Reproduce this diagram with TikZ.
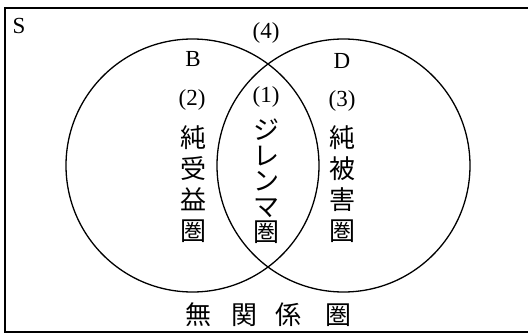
\documentclass[tikz,border=0pt]{standalone}
\usepackage{fontspec}
\setmainfont{Liberation Serif}
\newfontfamily\cjk{Noto Sans CJK JP}
\begin{document}
\begin{tikzpicture}[x=1pt,y=-1pt,
  lat/.style={inner sep=0pt,font=\fontsize{23}{27}\selectfont},
  jcol/.style={inner sep=0pt,align=center,font=\cjk\fontsize{26}{31}\selectfont},
  jchar/.style={inner sep=0pt,font=\cjk\fontsize{26}{30}\selectfont},
  ring/.style={line width=1.3pt}]
\useasboundingbox (0,0) rectangle (528,334);
\draw[line width=1.6pt] (530,8) -- (5,8) -- (5,332) -- (530,332);
\node[draw,ring,circle,minimum size=253pt,inner sep=0pt] (B) at (192.5,165.5) {};
\node[draw,ring,circle,minimum size=253pt,inner sep=0pt] (D) at (343.5,165.5) {};
\node[lat] (S) at (19,26) {S};
\node[lat] (n4) at (266,33) {(4)};
\node[lat] (lB) at (193,59) {B};
\node[lat] (lD) at (342,61) {D};
\node[lat] (n2) at (192,100) {(2)};
\node[lat] (n1) at (266,97) {(1)};
\node[lat] (n3) at (342,101) {(3)};
\node[jcol,anchor=north] (tB) at (193,125) {純\\受\\益\\圏};
\node[jcol,anchor=north] (tD) at (342,125) {純\\被\\害\\圏};
\node[jcol,anchor=north,font=\cjk\fontsize{26}{25.5}\selectfont] (tBD) at (266,119) {ジ\\レ\\ン\\マ\\圏};
\node[jchar] (m1) at (198.5,315) {無};
\node[jchar] (m2) at (244,315) {関};
\node[jchar] (m3) at (288,315) {係};
\node[jchar] (m4) at (338.5,315) {圏};
\end{tikzpicture}
\end{document}
